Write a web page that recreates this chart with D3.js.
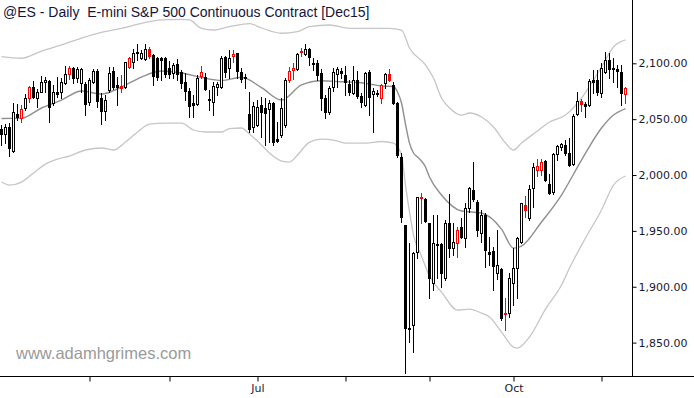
<!DOCTYPE html>
<html>
<head>
<meta charset="utf-8">
<script src="https://cdnjs.cloudflare.com/ajax/libs/d3/7.8.5/d3.min.js"></script>
<style>
  body { margin: 0; background: #fff; }
  svg { display: block; }
</style>
</head>
<body>
<svg id="chart" width="694" height="398"></svg>
<script>
// daily bars, bar 0 = 31 Mar 2015 ... bar 156 = 9 Nov 2015
var opens = [2040.9, 2036.7, 2043.2, 2021.8, 2054.6, 2051.3, 2060.2, 2068.7, 2078.5, 2069.2,
  2074.6, 2083.5, 2084.4, 2064.2, 2074.3, 2074.6, 2082.1, 2090.4, 2095.5, 2086.6,
  2082.6, 2081.5, 2065.6, 2083.5, 2093.4, 2068.7, 2057.3, 2076.1, 2093.1, 2080.6,
  2079.9, 2079.0, 2096.4, 2101.4, 2110.4, 2105.0, 2103.9, 2112.8, 2107.4, 2104.5,
  2105.0, 2105.0, 2096.1, 2091.0, 2099.1, 2091.9, 2083.0, 2075.2, 2064.2, 2063.3,
  2088.6, 2088.0, 2067.8, 2065.6, 2078.8, 2079.0, 2105.6, 2095.5, 2106.1, 2109.0,
  2092.5, 2088.0, 2054.6, 2043.4, 2044.8, 2062.7, 2060.2, 2059.1, 2064.2, 2032.2,
  2035.8, 2044.8, 2085.0, 2093.6, 2095.3, 2110.6, 2108.6, 2112.5, 2100.0, 2100.0,
  2091.3, 2068.9, 2056.7, 2079.2, 2090.1, 2093.1, 2089.5, 2081.2, 2073.1, 2085.0,
  2071.0, 2062.7, 2091.9, 2072.2, 2073.7, 2068.7, 2082.1, 2090.1, 2080.6, 2064.2,
  2016.4, 1955.2, 1863.5, 1865.7, 1931.3, 1980.3, 1978.2, 1956.8, 1903.6, 1937.8,
  1938.2, 1907.5, 1956.8, 1934.4, 1939.4, 1953.7, 1943.3, 1970.2, 1986.6, 1976.1,
  1948.3, 1964.2, 1931.3, 1932.0, 1912.5, 1915.6, 1876.4, 1876.2, 1903.0, 1916.5,
  1940.3, 1973.1, 1961.2, 1988.1, 2004.2, 2004.9, 2012.5, 1991.9, 1984.5, 2018.8,
  2025.3, 2026.9, 2020.0, 2009.8, 2054.6, 2066.2, 2063.6, 2062.7, 2085.0, 2085.0,
  2073.1, 2092.5, 2103.0, 2095.5, 2094.6, 2091.8, 2072.1];

var highs = [2044.8, 2045.4, 2046.3, 2064.2, 2063.3, 2062.7, 2072.2, 2079.7, 2084.2, 2077.0,
  2088.4, 2087.5, 2085.0, 2080.6, 2088.0, 2086.6, 2097.6, 2097.9, 2097.0, 2097.0,
  2096.1, 2083.5, 2086.6, 2094.6, 2094.9, 2073.1, 2071.6, 2096.7, 2096.4, 2088.0,
  2089.5, 2101.4, 2105.9, 2112.8, 2117.0, 2111.9, 2117.0, 2114.9, 2108.3, 2105.6,
  2105.6, 2105.6, 2102.1, 2100.0, 2103.9, 2094.0, 2091.0, 2077.6, 2071.6, 2089.5,
  2097.9, 2091.0, 2076.1, 2083.5, 2083.3, 2106.8, 2106.5, 2111.9, 2111.9, 2109.2,
  2095.8, 2090.4, 2074.6, 2065.6, 2067.1, 2070.1, 2068.7, 2067.1, 2065.6, 2047.7,
  2068.7, 2086.6, 2097.0, 2100.0, 2109.0, 2113.4, 2117.3, 2113.4, 2104.7, 2103.0,
  2095.3, 2071.6, 2079.7, 2095.5, 2097.0, 2095.5, 2097.9, 2085.0, 2097.9, 2093.1,
  2073.1, 2092.5, 2094.0, 2077.6, 2076.1, 2081.2, 2091.3, 2094.9, 2083.5, 2065.6,
  2019.4, 1955.2, 1938.8, 1931.3, 1980.6, 1984.3, 1979.1, 1956.8, 1964.2, 1964.2,
  1938.8, 1959.7, 1983.0, 1957.3, 1953.7, 1961.5, 1974.7, 1989.0, 2011.9, 1977.6,
  1968.7, 1965.7, 1944.8, 1935.8, 1950.8, 1916.5, 1889.6, 1912.0, 1934.6, 1944.8,
  1975.0, 1981.2, 1991.0, 2010.5, 2014.1, 2014.3, 2013.4, 2001.3, 2019.7, 2026.9,
  2028.6, 2031.3, 2032.8, 2054.2, 2074.6, 2067.8, 2065.6, 2085.7, 2094.0, 2094.0,
  2100.0, 2110.4, 2109.5, 2104.3, 2098.5, 2098.5, 2079.2];

var lows = [2026.9, 2028.4, 2017.3, 2020.9, 2049.2, 2047.2, 2058.2, 2065.6, 2068.7, 2061.1,
  2074.0, 2074.6, 2047.7, 2062.7, 2070.1, 2069.2, 2081.2, 2085.7, 2082.1, 2083.5,
  2074.6, 2053.7, 2062.7, 2082.1, 2061.1, 2045.4, 2049.2, 2074.3, 2077.0, 2062.7,
  2074.0, 2078.2, 2095.5, 2095.5, 2103.0, 2103.9, 2103.0, 2105.0, 2080.6, 2085.0,
  2085.0, 2088.0, 2086.8, 2086.6, 2085.0, 2077.6, 2067.1, 2052.2, 2052.2, 2062.7,
  2086.6, 2076.1, 2058.2, 2053.7, 2071.6, 2078.2, 2087.7, 2087.1, 2101.4, 2086.8,
  2083.3, 2077.6, 2038.8, 2038.8, 2044.1, 2034.3, 2026.9, 2030.0, 2026.9, 2030.0,
  2034.3, 2043.2, 2083.5, 2085.7, 2094.0, 2106.5, 2107.4, 2098.5, 2094.0, 2085.0,
  2058.2, 2051.0, 2054.6, 2075.2, 2079.0, 2086.6, 2071.6, 2071.6, 2072.2, 2069.2,
  2061.1, 2061.8, 2053.7, 2038.2, 2071.0, 2064.2, 2077.9, 2084.2, 2063.3, 2016.4,
  1958.2, 1822.5, 1850.7, 1841.8, 1925.4, 1957.5, 1958.2, 1889.6, 1897.0, 1907.8,
  1899.5, 1906.0, 1926.9, 1928.4, 1926.9, 1943.6, 1935.8, 1967.1, 1977.0, 1945.4,
  1940.3, 1917.9, 1919.4, 1897.0, 1906.9, 1870.2, 1861.3, 1872.9, 1883.6, 1889.9,
  1939.1, 1962.7, 1959.7, 1971.6, 1999.1, 2000.0, 1994.2, 1983.0, 1983.4, 2013.8,
  2022.8, 2018.3, 2008.0, 2008.9, 2053.7, 2057.3, 2051.7, 2061.8, 2073.1, 2071.6,
  2070.1, 2091.0, 2086.6, 2083.5, 2078.8, 2063.1, 2064.2];

var closes = [2036.4, 2042.7, 2023.9, 2056.1, 2051.7, 2059.1, 2069.2, 2079.0, 2070.1, 2074.6,
  2083.0, 2084.8, 2061.1, 2074.6, 2072.8, 2083.0, 2090.4, 2095.5, 2087.1, 2094.6,
  2094.6, 2063.3, 2085.0, 2093.1, 2066.2, 2057.3, 2067.1, 2091.0, 2079.0, 2078.5,
  2077.6, 2100.9, 2104.5, 2109.0, 2109.0, 2109.0, 2112.8, 2106.8, 2088.9, 2088.0,
  2103.0, 2090.1, 2090.4, 2098.5, 2090.1, 2082.1, 2075.2, 2062.0, 2062.7, 2086.6,
  2091.9, 2076.7, 2066.9, 2079.9, 2081.5, 2105.0, 2092.2, 2104.5, 2107.9, 2093.1,
  2085.7, 2087.1, 2041.2, 2062.2, 2061.1, 2056.7, 2055.2, 2064.2, 2030.0, 2030.4,
  2059.7, 2085.0, 2093.1, 2096.2, 2107.9, 2109.8, 2112.5, 2105.9, 2099.1, 2089.5,
  2068.7, 2056.0, 2077.9, 2092.5, 2094.9, 2091.0, 2083.5, 2074.0, 2085.0, 2071.0,
  2065.1, 2091.0, 2070.1, 2075.2, 2072.5, 2080.6, 2090.1, 2085.0, 2064.2, 2017.9,
  1962.7, 1862.7, 1862.5, 1929.9, 1980.6, 1979.4, 1959.1, 1907.5, 1938.8, 1938.7,
  1912.5, 1956.8, 1934.4, 1940.3, 1950.8, 1944.8, 1970.2, 1988.1, 1978.2, 1950.8,
  1964.2, 1932.9, 1929.0, 1918.8, 1919.4, 1871.7, 1875.6, 1908.2, 1917.2, 1943.3,
  1974.7, 1969.1, 1987.2, 2007.4, 2008.0, 2011.6, 1995.5, 1984.1, 2018.8, 2025.7,
  2027.7, 2020.0, 2008.9, 2052.8, 2066.5, 2063.3, 2061.8, 2084.4, 2083.7, 2074.6,
  2096.2, 2103.0, 2094.9, 2094.6, 2093.4, 2073.7, 2078.3];

// bars painted red on the source chart
var redBars = [5, 7, 17, 30, 32, 37, 50, 58, 72, 73, 75, 95, 97, 105, 114, 126, 131, 134, 135, 145, 156];

// first trading day of each month (bar index) and the label shown under it
var monthStarts = [22, 42, 64, 86, 107, 128, 150];
var monthLabels = ["", "", "Jul", "", "", "Oct", ""];

var priceTicks = [1850, 1900, 1950, 2000, 2050, 2100];

// average and channel lines as [bar, price]
var avgLine = [[0, 2050.6], [5, 2050.9], [10, 2060.0], [15, 2067.1], [20, 2075.2], [25, 2072.5],
  [30, 2078.8], [35, 2087.7], [40, 2093.1], [45, 2091.3], [50, 2087.3], [55, 2084.6],
  [60, 2087.5], [65, 2078.2], [70, 2067.1], [75, 2080.6], [80, 2084.4], [85, 2083.5],
  [90, 2082.6], [95, 2079.7], [98, 2079.2], [99, 2074.3], [100, 2064.5], [101, 2045.6],
  [102, 2028.6], [103, 2019.7], [104, 2016.1], [105, 2012.5], [106, 2007.2], [107, 1998.2],
  [110, 1982.1], [115, 1967.8], [120, 1966.0], [125, 1951.6], [128, 1934.6], [130, 1936.4],
  [135, 1957.9], [140, 1982.1], [145, 2013.4], [150, 2042.1], [153, 2053.7], [156, 2059.5]];

var upperBand = [[0, 2105.9], [5, 2104.5], [10, 2111.0], [15, 2116.4], [20, 2122.6], [25, 2127.6],
  [30, 2131.3], [35, 2135.8], [40, 2138.8], [45, 2139.4], [47, 2138.8], [50, 2131.3],
  [53, 2129.8], [57, 2132.8], [62, 2135.6], [65, 2131.6], [70, 2126.9], [74, 2128.3],
  [77, 2132.8], [82, 2134.3], [87, 2131.3], [92, 2131.3], [97, 2131.3], [100, 2129.8],
  [102, 2113.7], [106, 2098.5], [108, 2086.8], [110, 2068.9], [112, 2060.0], [115, 2053.7],
  [117, 2055.5], [120, 2051.9], [123, 2043.0], [126, 2028.6], [128, 2022.4], [130, 2028.6],
  [134, 2039.4], [137, 2047.4], [141, 2053.7], [145, 2068.9], [150, 2096.7], [153, 2114.6],
  [156, 2120.9]];

var lowerBand = [[0, 1993.7], [2, 1991.0], [5, 1993.7], [8, 2001.8], [11, 2009.8], [14, 2014.3],
  [17, 2017.0], [21, 2022.4], [25, 2024.2], [28, 2022.4], [31, 2029.5], [34, 2038.5],
  [37, 2045.6], [41, 2046.5], [45, 2046.5], [48, 2040.3], [51, 2038.5], [55, 2038.5],
  [57, 2041.6], [60, 2042.1], [62, 2036.7], [65, 2026.8], [67, 2019.7], [70, 2012.5],
  [72, 2011.6], [74, 2017.9], [77, 2029.5], [80, 2032.2], [83, 2031.3], [86, 2028.6],
  [91, 2028.6], [95, 2030.0], [98, 2028.6], [99, 2025.1], [100, 2017.9], [101, 1991.0],
  [102, 1966.9], [103, 1946.3], [105, 1927.5], [107, 1909.6], [110, 1895.2], [114, 1879.1],
  [117, 1880.0], [120, 1876.4], [122, 1872.9], [125, 1859.4], [128, 1846.0], [129, 1845.1],
  [132, 1855.0], [136, 1880.0], [140, 1901.5], [142, 1916.7], [146, 1943.6], [150, 1968.7],
  [153, 1991.0], [156, 1999.1]];

var svg = d3.select('#chart');
var plotRight = 632.5;
var plotBottom = 376.5;

var x = d3.scaleLinear().domain([0, 156]).range([1.5, 625.5]);
var y = d3.scaleLinear().domain([1850, 2100]).range([342.6, 63.3]);

svg.append('defs').append('clipPath').attr('id', 'plotClip')
  .append('rect')
  .attr('x', 0).attr('y', 0)
  .attr('width', plotRight).attr('height', plotBottom);

var plot = svg.append('g').attr('clip-path', 'url(#plotClip)');

// watermark
svg.append('text')
  .attr('x', 16)
  .attr('y', 359)
  .attr('font-family', 'Liberation Sans, Arial, sans-serif')
  .attr('font-size', '16.5px')
  .attr('fill', '#9a9a9a')
  .text('www.adamhgrimes.com');

// channel and average lines go under the candles
var line = d3.line()
  .x(function(d) { return x(d[0]); })
  .y(function(d) { return y(d[1]); })
  .curve(d3.curveMonotoneX);

plot.append('path')
  .attr('d', line(upperBand))
  .attr('fill', 'none')
  .attr('stroke', '#c6c6c6')
  .attr('stroke-width', 1.3);

plot.append('path')
  .attr('d', line(lowerBand))
  .attr('fill', 'none')
  .attr('stroke', '#c6c6c6')
  .attr('stroke-width', 1.3);

plot.append('path')
  .attr('d', line(avgLine))
  .attr('fill', 'none')
  .attr('stroke', '#8f8f8f')
  .attr('stroke-width', 1.4);

var bars = d3.range(opens.length).map(function(i) {
  return {
    i: i,
    o: opens[i], h: highs[i], l: lows[i], c: closes[i],
    color: redBars.indexOf(i) >= 0 ? '#ff0000' : '#000000'
  };
});

var candles = plot.append('g').attr('id', 'candles')
  .attr('shape-rendering', 'crispEdges')
  .selectAll('g')
  .data(bars)
  .enter()
  .append('g');

candles.append('line')
  .attr('x1', function(d) { return x(d.i); })
  .attr('x2', function(d) { return x(d.i); })
  .attr('y1', function(d) { return Math.round(y(d.h)); })
  .attr('y2', function(d) { return Math.round(y(d.l)) + 1; })
  .attr('stroke', function(d) { return d.color; })
  .attr('stroke-width', 1);

candles.append('rect')
  .attr('x', function(d) { return x(d.i) - 1; })
  .attr('width', 2)
  .attr('y', function(d) { return Math.round(y(Math.max(d.o, d.c))) + 0.5; })
  .attr('height', function(d) {
    var top = Math.round(y(Math.max(d.o, d.c)));
    var bot = Math.round(y(Math.min(d.o, d.c)));
    return Math.max(bot - top, 1);
  })
  .attr('fill', function(d) { return d.c >= d.o ? '#ffffff' : d.color; })
  .attr('stroke', function(d) { return d.color; })
  .attr('stroke-width', 1);

// price axis on the right
var yAxis = svg.append('g')
  .attr('transform', 'translate(' + plotRight + ',0)')
  .call(d3.axisRight(y)
    .tickValues(priceTicks)
    .tickFormat(d3.format(',.2f'))
    .tickSize(4)
    .tickPadding(2));
yAxis.select('.domain').remove();
yAxis.selectAll('line').attr('stroke', '#000');
yAxis.selectAll('text')
  .attr('font-family', 'DejaVu Sans, Verdana, sans-serif')
  .attr('font-size', '11px')
  .attr('fill', '#1a1a30');

svg.append('line')
  .attr('x1', plotRight).attr('x2', plotRight)
  .attr('y1', 0).attr('y2', plotBottom)
  .attr('stroke', '#000')
  .attr('stroke-width', 1);

// time axis
var xAxis = svg.append('g')
  .attr('transform', 'translate(0,' + plotBottom + ')')
  .call(d3.axisBottom(x)
    .tickValues(monthStarts)
    .tickFormat(function(d, i) { return monthLabels[i]; })
    .tickSize(5)
    .tickPadding(3));
xAxis.select('.domain').remove();
xAxis.selectAll('line').attr('stroke', '#000');
xAxis.selectAll('text')
  .attr('font-family', 'DejaVu Sans, Verdana, sans-serif')
  .attr('font-size', '11px')
  .attr('fill', '#1a1a30');

svg.append('line')
  .attr('x1', 0).attr('x2', 694)
  .attr('y1', plotBottom).attr('y2', plotBottom)
  .attr('stroke', '#000')
  .attr('stroke-width', 1);

// title
svg.append('text')
  .attr('x', 3)
  .attr('y', 17)
  .attr('font-family', 'Liberation Sans, Arial, sans-serif')
  .attr('font-size', '14px')
  .attr('fill', '#14143a')
  .attr('xml:space', 'preserve')
  .text('@ES - Daily  E-mini S&P 500 Continuous Contract [Dec15]');
</script>
</body>
</html>
